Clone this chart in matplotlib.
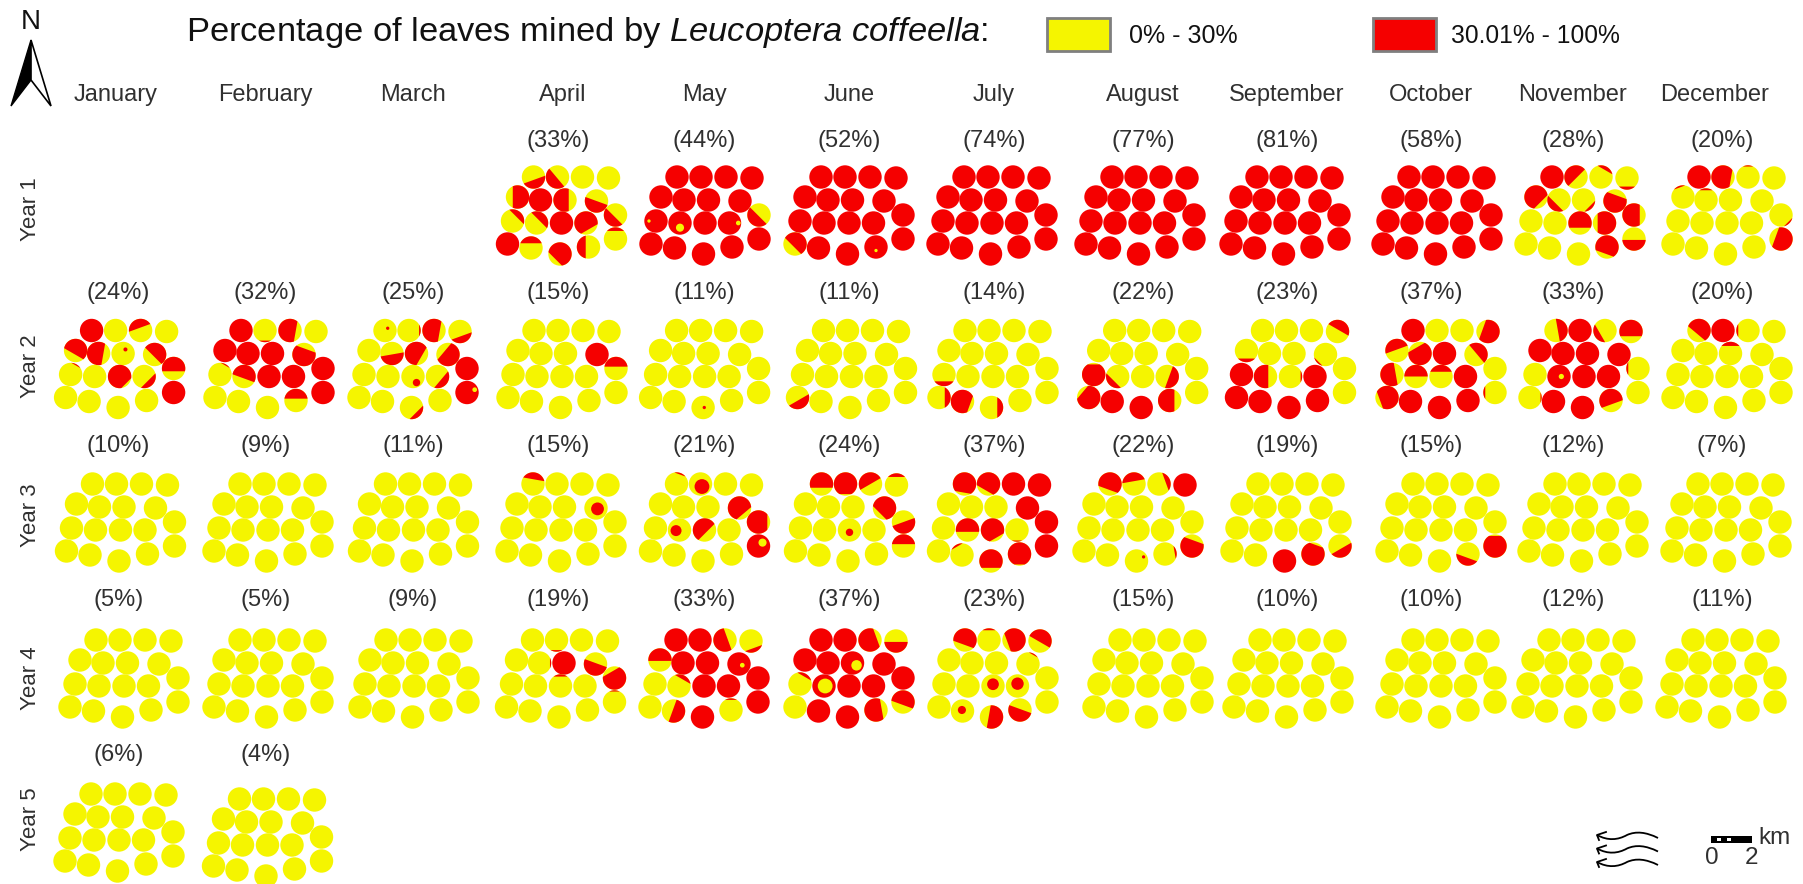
import numpy as np
import matplotlib
matplotlib.use('Agg')
import matplotlib.pyplot as plt
from matplotlib.patches import Circle, Polygon, Rectangle, PathPatch
from matplotlib.path import Path

plt.rcParams['font.family'] = ['Liberation Sans', 'DejaVu Sans']
plt.rcParams['mathtext.fontset'] = 'custom'
plt.rcParams['mathtext.rm'] = 'Liberation Sans'
plt.rcParams['mathtext.it'] = 'Liberation Sans:italic'

months = ['January', 'February', 'March', 'April', 'May', 'June', 'July',
          'August', 'September', 'October', 'November', 'December']
years = ['Year 1', 'Year 2', 'Year 3', 'Year 4', 'Year 5']

# field positions of the 18 plots (km-ish, read in px from the map)
plot_x = [-28, -4, 21, 47, -44, -21, 3.5, 35, -49, -25, 0, 24.5, 54, -54, -30.5, -1.5, 27, 54]
plot_y = [-38, -38, -38, -37, -18, -15, -15, -14, 6, 8, 8, 8, 0, 29, 33, 39, 32, 24]

# percentage above each map, None = no survey
pct_y1 = [None, None, None, 33, 44, 52, 74, 77, 81, 58, 28, 20]
pct_y2 = [24, 32, 25, 15, 11, 11, 14, 22, 23, 37, 33, 20]
pct_y3 = [10, 9, 11, 15, 21, 24, 37, 22, 19, 15, 12, 7]
pct_y4 = [5, 5, 9, 19, 33, 37, 23, 15, 10, 10, 12, 11]
pct_y5 = [6, 4, None, None, None, None, None, None, None, None, None, None]

# red share per plot: 0 yellow, 1 red, (share, side) red on one side,
# (share, side, offset) a patch inside the plot
R = [1] * 18
Y = [0] * 18
y1_shares = {
    'April': [(.35, 290), (.45, 220), 0, 0, (.75, 0), 1, (.7, 180), (.5, 250),
              (.2, 45), (.3, 45), 1, (.85, 120), (.4, 225),
              1, (.25, 90), (.85, 45), (.35, 180), (.1, 90)],
    'May': [1, 1, 1, 1, 1, 1, 1, 1,
            (.98, 180, .6), (.88, 270, .4), 1, (.96, 0, .75), (.45, 225),
            1, 1, 1, 1, 1],
    'June': [1, 1, 1, 1, 1, 1, 1, 1, 1, 1, 1, 1, 1,
             (.65, 45), 1, 1, (.98, 270, .3), 1],
    'July': R, 'August': R, 'September': R, 'October': R,
    'November': [1, (.55, 135), (.1, 60), (.08, 270),
                 (.85, 135), (.25, 225), (.07, 315), (.8, 250),
                 0, 0, (.75, 90), (.85, 0), (.8, 180),
                 0, 0, 0, (.85, 70), (.45, 270)],
    'December': [1, (.9, 170), (.02, 90), 0, (.03, 110), (.04, 90), 0, 0,
                 0, 0, 0, 0, (.03, 315),
                 0, 0, 0, 0, (.8, 340)],
}
y2_shares = {
    'January': [1, 0, (.35, 110), 0, (.7, 60), (.75, 170), (.03, 60, .4), (.6, 45),
                (.02, 60), 0, (.95, 135), (.2, 315), (.65, 90),
                0, 0, 0, 0, 1],
    'February': [1, (.03, 270), (.8, 170), 0, 1, 1, 1, (.8, 250),
                 (.02, 60), (.6, 70), 1, 1, 1,
                 0, 0, 0, (.4, 90), 1],
    'March': [(.02, 40, .3), (.03, 0), (.8, 170), (.25, 290),
              0, (.45, 280), (.8, 150), (.75, 320),
              0, 0, (.1, 300, .6), (.25, 320), 1,
              0, 0, (.15, 315), 0, (.96, 20, .7)],
    'April': [0, 0, 0, 0, 0, 0, 0, 1, 0, 0, 0, 0, (.4, 90), 0, 0, 0, 0, 0],
    'May': [0, 0, 0, 0, 0, 0, 0, 0, 0, 0, 0, 0, 0, 0, 0, (.02, 0, .1), 0, 0],
    'June': [0, 0, 0, 0, 0, 0, 0, 0, 0, 0, 0, 0, 0, (.35, 300), 0, 0, 0, 0],
    'July': [0, 0, 0, 0, 0, 0, 0, 0, (.15, 270), 0, 0, 0, 0,
             (.2, 0), (.9, 160), (.2, 0), 0, 0],
    'August': [0, 0, 0, 0, 0, 0, 0, 0,
               (.97, 270), (.2, 225), 0, (.4, 340), 0,
               (.9, 320), 1, 1, (.75, 180), 0],
    'September': [0, 0, 0, (.4, 60), (.1, 270), 0, 0, (.03, 225),
                  1, (.65, 180), (.03, 0), 1, 0,
                  1, 1, 1, 1, 0],
    'October': [1, 0, 0, (.8, 340), (.45, 110), (.85, 300), 1, (.45, 40),
                (.7, 190), (.5, 90), (.25, 90), 1, 0,
                (.88, 20), 1, 1, 1, (.04, 180)],
    'November': [(.4, 10), 1, (.2, 210), (.75, 90), 1, 1, 1, 1,
                 0, (.95, 0, .2), 1, 1, (.04, 180),
                 (.02, 0), 1, 1, (.7, 110), 0],
    'December': [(.7, 50), 1, (.04, 180), 0, 0, 0, (.12, 90), 0,
                 0, 0, 0, 0, 0, 0, 0, 0, 0, 0],
}
y3_shares = {
    'April': [(.25, 80), 0, 0, 0, 0, 0, 0, (.3, 330, .15),
              0, 0, 0, 0, 0, 0, 0, 0, 0, 0],
    'May': [(.03, 70), (.4, 300, .25), 0, 0, 0, 0, 0, (.85, 130),
            0, (.22, 190, .3), (.65, 135), 0, (.93, 180),
            0, 0, 0, 0, (.88, 40, .45)],
    'June': [(.7, 90), (.97, 90), (.5, 120), (.1, 90), 0, 0, 0, (.85, 45),
             0, 0, (.1, 270, .2), 0, (.5, 290),
             0, 0, 0, 0, (.4, 90)],
    'July': [(.92, 80), (.85, 60), 1, 1, 0, 0, 0, 1,
             0, (.6, 90), (.92, 120), (.02, 270), 1,
             0, (.04, 120), (.85, 90), (.98, 90), 1],
    'August': [(.8, 70), (.35, 100), (.15, 20), 1, 0, 0, 0, 0,
               0, 0, 0, 0, 0,
               0, 0, (.02, 30, .7), (.04, 10), (.8, 250)],
    'September': [0, 0, 0, 0, 0, 0, 0, 0, 0, 0, 0, 0, 0,
                  0, 0, 1, (.95, 250), (.35, 300)],
    'October': [0, 0, 0, 0, 0, 0, 0, 0, 0, 0, 0, 0, 0,
                0, 0, 0, (.3, 250), (.97, 270)],
}
y4_shares = {
    'April': [0, (.03, 270), 0, 0, 0, (.02, 0), 1, (.55, 250),
              0, 0, (.05, 90), 0, (.85, 300),
              0, 0, 0, 0, (.02, 90)],
    'May': [1, 1, (.65, 200), (.12, 290), (.55, 90), 1, 1, (.96, 340, .3),
            0, (.12, 60), 1, 1, 1,
            0, (.55, 340), 1, (.03, 90), 1],
    'June': [1, 1, (.85, 200), (.45, 270), 1, 1, (.8, 330, .4), 1,
             (.08, 60), (.6, 0, .1), 1, 1, 1,
             0, 1, 1, (.8, 190), (.65, 70)],
    'July': [(.75, 70), (.04, 90), (.85, 20), (.55, 60), 0, 0, 0, (.02, 60),
             0, 0, (.25, 90, .15), (.28, 90, .2), 0,
             0, (.12, 120, .1), (.65, 350), (.55, 250), 0],
}
y5_shares = {}

# layout in pixels
map_x = [
    [None, None, None, 561.5, 705, 849, 992, 1140, 1285, 1437, 1580, 1727],
    [119.6, 269, 413, 562, 704.6, 851.5, 993, 1142.7, 1290.5, 1441, 1584, 1727],
    [120.5, 268, 413.5, 561, 704.5, 849.5, 992.5, 1138, 1286, 1441, 1583, 1726],
    [124, 268, 414, 560.5, 704, 849, 993, 1148, 1288, 1441, 1577, 1721],
    [119, 267.5, None, None, None, None, None, None, None, None, None, None],
]
map_y = [215, 368.5, 522, 678, 832]
map_y_y5_feb = 837
label_x = [116, 265.6, 413, 563, 704, 849, 994, 1143, 1287, 1431, 1573, 1715]
pct_x = [118.4, 265.6, 413, 558, 704, 849, 994, 1143, 1287, 1431, 1573, 1722]
pct_label_y = [140.5, 293, 446, 600, 755.5]
year_label_y = [209, 366, 515, 678, 819]
plot_r = 11.7

yellow = '#f5f500'
red = '#f50000'
txt = '#303030'

# share of a disc beyond a chord at distance h
chord_h = np.linspace(-1, 1, 401)
chord_area = (np.arccos(chord_h) - chord_h * np.sqrt(1 - chord_h ** 2)) / np.pi


def draw_plot(ax, cx, cy, share):
    if share == 0 or share == 1:
        ax.add_patch(Circle((cx, cy), plot_r, fc=yellow if share == 0 else red, lw=0))
        return
    if len(share) == 2:
        ax.add_patch(Circle((cx, cy), plot_r, fc=yellow, lw=0))
        f, side = share
        h = np.interp(f, chord_area[::-1], chord_h[::-1])
        a = np.arccos(h)
        t = np.radians(side) + np.linspace(-a, a, 60)
        pts = np.column_stack([cx + plot_r * np.cos(t), cy - plot_r * np.sin(t)])
        ax.add_patch(Polygon(pts, closed=True, fc=red, lw=0))
    else:
        f, side, off = share
        base, spot, minor = (yellow, red, f) if f < .5 else (red, yellow, 1 - f)
        ax.add_patch(Circle((cx, cy), plot_r, fc=base, lw=0))
        sx = cx + off * plot_r * np.cos(np.radians(side))
        sy = cy - off * plot_r * np.sin(np.radians(side))
        ax.add_patch(Circle((sx, sy), plot_r * np.sqrt(minor), fc=spot, lw=0))


fig, ax = plt.subplots(1, 1, figsize=(18.03, 8.84), dpi=100)
fig.subplots_adjust(0, 0, 1, 1)
ax.set_xlim(0, 1803)
ax.set_ylim(884, 0)
ax.axis('off')

all_pct = [pct_y1, pct_y2, pct_y3, pct_y4, pct_y5]
all_shares = [y1_shares, y2_shares, y3_shares, y4_shares, y5_shares]

for m, name in enumerate(months):
    ax.text(label_x[m], 101, name, ha='center', va='baseline', fontsize=17, color=txt)

for i, year in enumerate(years):
    ax.text(31, year_label_y[i], year, rotation=90, ha='center', va='center',
            fontsize=16, color=txt)
    for m, name in enumerate(months):
        if all_pct[i][m] is None:
            continue
        ax.text(pct_x[m], pct_label_y[i], '(%d%%)' % all_pct[i][m], ha='center',
                va='center', fontsize=17, color=txt)
        shares = all_shares[i].get(name, Y)
        cy = map_y[i]
        if i == 4 and m == 1:
            cy = map_y_y5_feb
        for k in range(18):
            draw_plot(ax, map_x[i][m] + plot_x[k], cy + plot_y[k], shares[k])

# title and legend
ax.text(186, 33, r'Percentage of leaves mined by $\mathit{Leucoptera\ coffeella}$:',
        ha='left', va='center', fontsize=24.8, color='#111111')
ax.add_patch(Rectangle((1047, 18), 63, 33, fc=yellow, ec='#7f7f7f', lw=2))
ax.add_patch(Rectangle((1373, 18), 63, 33, fc=red, ec='#7f7f7f', lw=2))
ax.text(1129, 36, '0% - 30%', ha='left', va='center', fontsize=18, color='#111111')
ax.text(1451, 36, '30.01% - 100%', ha='left', va='center', fontsize=17.7, color='#111111')

# north arrow
ax.text(31, 22, 'N', ha='center', va='center', fontsize=20, color='#111111')
ax.add_patch(Polygon([(31, 40), (11, 106), (31, 80)], closed=True, fc='black', ec='black', lw=1))
ax.add_patch(Polygon([(31, 40), (51, 106), (31, 80)], closed=True, fc='white', ec='black', lw=1.2))

# wind arrows
for dy in [0, 13.5, 27]:
    wave = Path([(1658, 838 + dy), (1646, 832 + dy), (1636, 831 + dy), (1627, 835 + dy),
                 (1618, 840 + dy), (1608, 841 + dy), (1597, 835 + dy)],
                [Path.MOVETO, Path.CURVE4, Path.CURVE4, Path.CURVE4,
                 Path.CURVE4, Path.CURVE4, Path.CURVE4])
    ax.add_patch(PathPatch(wave, fc='none', ec='black', lw=1.3))
    ax.plot([1606, 1597, 1599], [832 + dy, 835 + dy, 840 + dy], color='black', lw=1.3)

# scale bar
ax.add_patch(Rectangle((1711, 836), 41, 7, fc='black', lw=0))
ax.add_patch(Rectangle((1717, 838), 4, 3, fc='white', lw=0))
ax.add_patch(Rectangle((1727, 838), 4, 3, fc='white', lw=0))
ax.text(1712, 858, '0', ha='center', va='center', fontsize=17.5, color=txt)
ax.text(1751, 858, '2', ha='center', va='center', fontsize=17.5, color=txt)
ax.text(1775, 838, 'km', ha='center', va='center', fontsize=17.5, color=txt)

fig.savefig('out.png', dpi=100)
